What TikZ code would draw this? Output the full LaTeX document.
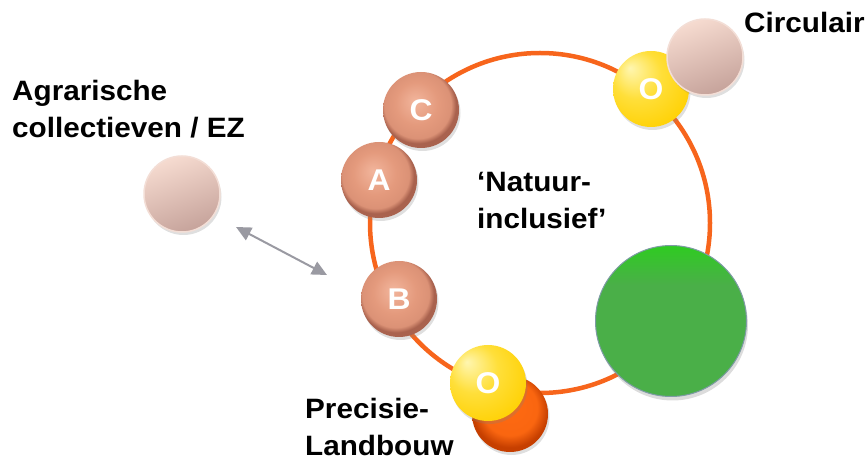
\documentclass[tikz,border=0pt]{standalone}
\usepackage{fontspec}
\setmainfont[FakeStretch=1.06]{Liberation Sans}
\usetikzlibrary{arrows.meta,shadows}
\definecolor{ringc}{HTML}{F7651C}
\definecolor{salL}{HTML}{F2B59C}
\definecolor{salM}{HTML}{E49A7D}
\definecolor{salD}{HTML}{A9624E}
\definecolor{yelL}{HTML}{FFF6B0}
\definecolor{yelM}{HTML}{FFDF3A}
\definecolor{yelD}{HTML}{FFD000}
\definecolor{paleL}{HTML}{F6DBD0}
\definecolor{paleD}{HTML}{C6A39B}
\definecolor{paleB}{HTML}{F3DED6}
\definecolor{grnA}{HTML}{4AAF48}
\definecolor{grnB}{HTML}{2FCB22}
\definecolor{grnE}{HTML}{7E9BA5}
\definecolor{orL}{HTML}{FF6A12}
\definecolor{orD}{HTML}{C63F00}
\definecolor{arrc}{HTML}{9A9AA2}
\pgfdeclareradialshading{salball}{\pgfpoint{-4bp}{6bp}}{color(0bp)=(salL); color(14bp)=(salM); color(22bp)=(salM!85!salD); color(25bp)=(salD); color(50bp)=(salD)}
\pgfdeclareradialshading{yelball}{\pgfpoint{-14bp}{14bp}}{color(0bp)=(yelL); color(16bp)=(yelM); color(34bp)=(yelD); color(50bp)=(yelD)}
\pgfdeclareradialshading{orball}{\pgfpoint{0bp}{6bp}}{color(0bp)=(orL); color(18bp)=(orL!90!orD); color(25bp)=(orD); color(50bp)=(orD)}
\pgfdeclareverticalshading{grnsh}{100bp}{color(0bp)=(grnA); color(62bp)=(grnA); color(75bp)=(grnB); color(100bp)=(grnB)}
\tikzset{
  ball/.style={circle, minimum size=76pt, inner sep=0pt, text=white,
    font=\bfseries\fontsize{30}{30}\selectfont,
    drop shadow={opacity=0.25, shadow xshift=1.5pt, shadow yshift=-3pt}},
  salmon/.style={ball, shading=salball},
  yellow/.style={ball, shading=yelball, drop shadow={opacity=0}},
  pale/.style={ball, shading=axis, top color=paleL, bottom color=paleD, shading angle=20, draw=paleB, line width=1.5pt},
  orangeball/.style={ball, shading=orball},
  greenball/.style={circle, minimum size=151pt, inner sep=0pt, shading=grnsh, draw=grnE, line width=1pt,
    drop shadow={opacity=0.28, shadow xshift=1.5pt, shadow yshift=-4pt}},
  lbl/.style={font=\bfseries\fontsize{28}{37}\selectfont, align=left, inner sep=0pt},
  ring/.style={draw=ringc, line width=4.5pt},
  link/.style={draw=arrc, line width=2pt, {Triangle[length=15pt,width=14pt]}-{Triangle[length=15pt,width=14pt]}}
}
\begin{document}
\begin{tikzpicture}[x=1pt,y=-1pt]
\useasboundingbox (0,0) rectangle (868,462);
\node[circle, minimum size=340pt, inner sep=0pt, ring] (rng) at (540,223) {};
\node[greenball] (grn) at (671,321) {};
\node[orangeball] (orb) at (510,414) {};
\node[salmon] (c) at (421,110) {C};
\node[salmon] (a) at (379,180) {A};
\node[salmon] (b) at (399,299) {B};
\node[yellow] (o1) at (651,89) {O};
\node[pale] (circ) at (705,57) {};
\node[yellow] (o2) at (488,383) {O};
\node[pale] (agr) at (182,194) {};
\coordinate (p1) at (236,227);
\coordinate (p2) at (327,275);
\draw[link] (p1) -- (p2);
\node[lbl, anchor=base west] (tagr) at (12,138) {Agrarische\\collectieven / EZ};
\node[lbl, anchor=base west] (tcirc) at (744,33) {Circulair};
\node[lbl, anchor=base west] (tnat) at (477,228.5) {‘Natuur-\\inclusief’};
\node[lbl, anchor=base west] (tprec) at (305,455) {Precisie-\\Landbouw};
\end{tikzpicture}
\end{document}
